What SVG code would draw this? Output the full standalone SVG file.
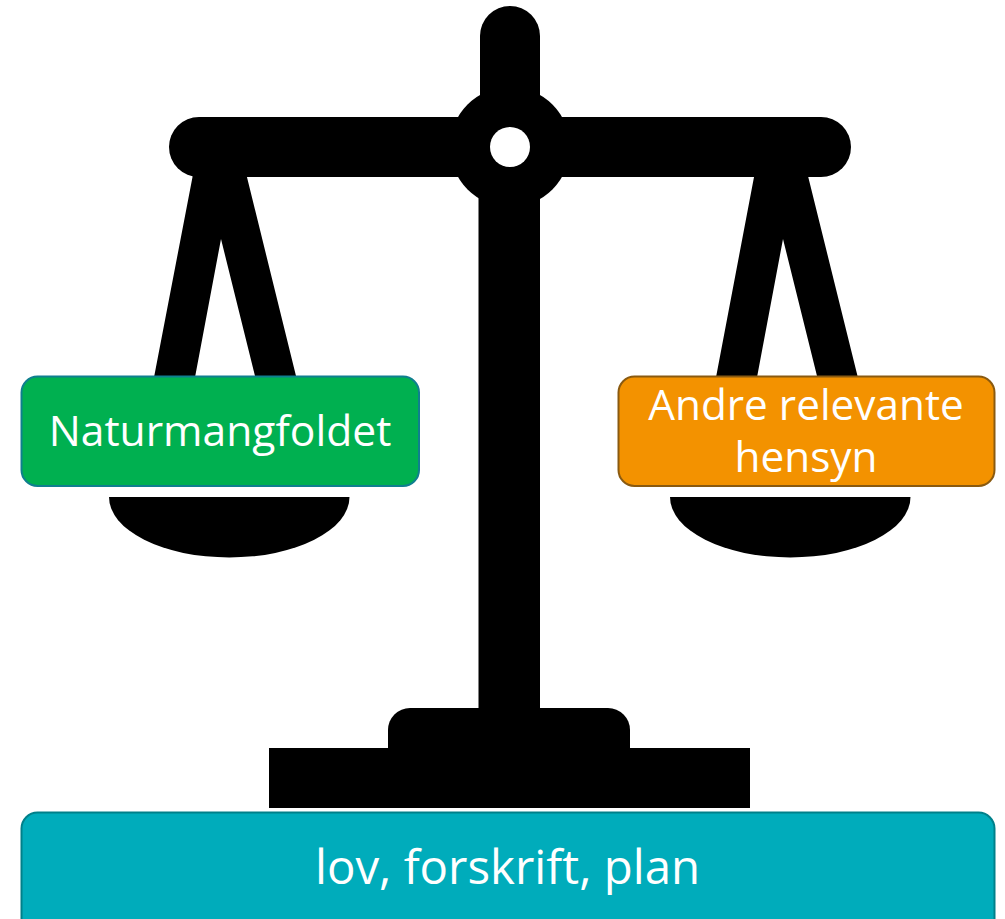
<svg xmlns="http://www.w3.org/2000/svg" width="1005" height="919" viewBox="0 0 1005 919">
<style>
.scale{fill:#000}
.label{font-family:"Open Sans","Noto Sans","Liberation Sans",sans-serif;fill:#fff;text-anchor:middle}
.box{stroke-width:2}
</style>
<rect width="1005" height="919" fill="#fff"/>
<g id="scale">
<rect class="scale" x="480" y="6" width="60" height="150" rx="30"/>
<rect class="scale" x="169" y="117" width="682" height="60" rx="30"/>
<circle class="scale" cx="510" cy="147" r="60"/>
<rect class="scale" x="478.500" y="190" width="61.500" height="530"/>
<circle cx="510" cy="147" r="20" fill="#fff"/>
<path class="scale" d="M388 760V730a22 22 0 0 1 22-22H608a22 22 0 0 1 22 22V760z"/>
<rect class="scale" x="269" y="748" width="481" height="60"/>
<path class="scale" d="M192.700 176L153.500 380H194.500L221 239L256 380H297L246.700 176z"/>
<path class="scale" d="M754.200 176L715.500 380H756.500L783 239L818 380H858.500L808 176z"/>
<path class="scale" d="M109 497H349.500A120.250 60.500 0 0 1 109 497z"/>
<path class="scale" d="M670 497H910.500A120.250 60.500 0 0 1 670 497z"/>
</g>
<g id="naturmangfoldet">
<rect class="box" x="21.500" y="376.500" width="397.500" height="109.500" rx="16" fill="#00b050" stroke="#0f7f8f"/>
<text class="label" x="220" y="445.500" font-size="42.600">Naturmangfoldet</text>
</g>
<g id="andre-hensyn">
<rect class="box" x="618.500" y="376.500" width="376" height="109.500" rx="16" fill="#f39200" stroke="#8a5a10"/>
<text class="label" x="806" y="420" font-size="42.300">Andre relevante</text>
<text class="label" x="806" y="472" font-size="42.300">hensyn</text>
</g>
<g id="lov">
<rect class="box" x="21.500" y="812.500" width="973" height="125" rx="16" fill="#00acbb" stroke="#00808a"/>
<text class="label" x="507.500" y="884" font-size="47.400">lov, forskrift, plan</text>
</g>
<g id="connectors"/>
</svg>
